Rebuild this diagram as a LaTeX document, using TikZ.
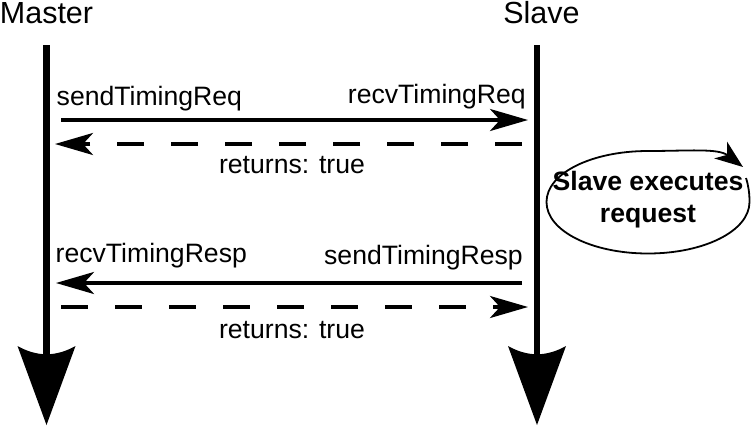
\documentclass[tikz,border=0pt]{standalone}
\usepackage{fontspec}
\setmainfont{Liberation Sans}
\usetikzlibrary{arrows.meta}
\tikzset{
  lifeline/.style={line width=6.5pt},
  msg/.style={line width=3.5pt, -{Stealth[length=38pt,width=22pt,inset=10pt]}},
  ret/.style={msg, dash pattern=on 27pt off 27pt},
  lbl/.style={font=\fontsize{26.6}{31}\selectfont, inner sep=0pt},
  head/.style={font=\fontsize{30.5}{36}\selectfont, inner sep=0pt},
  bighead/.style={fill=black}
}
\begin{document}
\begin{tikzpicture}[x=1pt,y=-1pt]
\useasboundingbox (0,0) rectangle (755,429);
% lifeline titles
\node[head, anchor=base] (master) at (46.5,23.5) {Master};
\node[head, anchor=base] (slave) at (541.5,23.5) {Slave};
% lifelines
\coordinate (mtop) at (46.5,45);
\coordinate (mbot) at (46.5,356);
\coordinate (stop) at (537,45);
\coordinate (sbot) at (537,356);
\draw[lifeline] (mtop) -- (mbot);
\draw[lifeline] (stop) -- (sbot);
\fill[bighead] (17.5,346) .. controls (37,357) and (56,357) .. (75.5,346) -- (46.5,425) -- cycle;
\fill[bighead] (508,346) .. controls (527.5,357) and (546.5,357) .. (566,346) -- (537,425) -- cycle;
% message end points
\coordinate (m1) at (61,120);  \coordinate (s1) at (528,120);
\coordinate (s2) at (522,144); \coordinate (m2) at (55,144);
\coordinate (s3) at (522,283); \coordinate (m3) at (56,283);
\coordinate (m4) at (61,307);  \coordinate (s4) at (528,307);
\draw[msg] (m1) -- (s1);
\draw[ret] (s2) -- (m2);
\draw[msg] (s3) -- (m3);
\draw[ret] (m4) -- (s4);
% labels
\node[lbl, anchor=base west] (l1) at (56.5,105) {sendTimingReq};
\node[lbl, anchor=base east] (l2) at (526,103) {recvTimingReq};
\node[lbl, anchor=base] (l3) at (292,173) {returns: true};
\node[lbl, anchor=base west] (l4) at (55.5,262) {recvTimingResp};
\node[lbl, anchor=base east] (l5) at (523,264) {sendTimingResp};
\node[lbl, anchor=base] (l6) at (292,338) {returns: true};
% slave executes request
\node[font=\bfseries\fontsize{26.6}{32}\selectfont, align=center, inner sep=0pt] (exec) at (648,200) {Slave executes\\request};
\draw[line width=1.8pt, -{Stealth[length=28pt,width=21pt,inset=8pt]}]
  (746,178) .. controls (748.5,186) and (749.5,193) .. (749.5,202)
  .. controls (749.5,231) and (704,253.5) .. (648,253.5)
  .. controls (592,253.5) and (546.5,231) .. (546.5,202)
  .. controls (546.5,173) and (592,151) .. (648,151)
  .. controls (688,151) and (718,148) .. (743,167);
\end{tikzpicture}
\end{document}
